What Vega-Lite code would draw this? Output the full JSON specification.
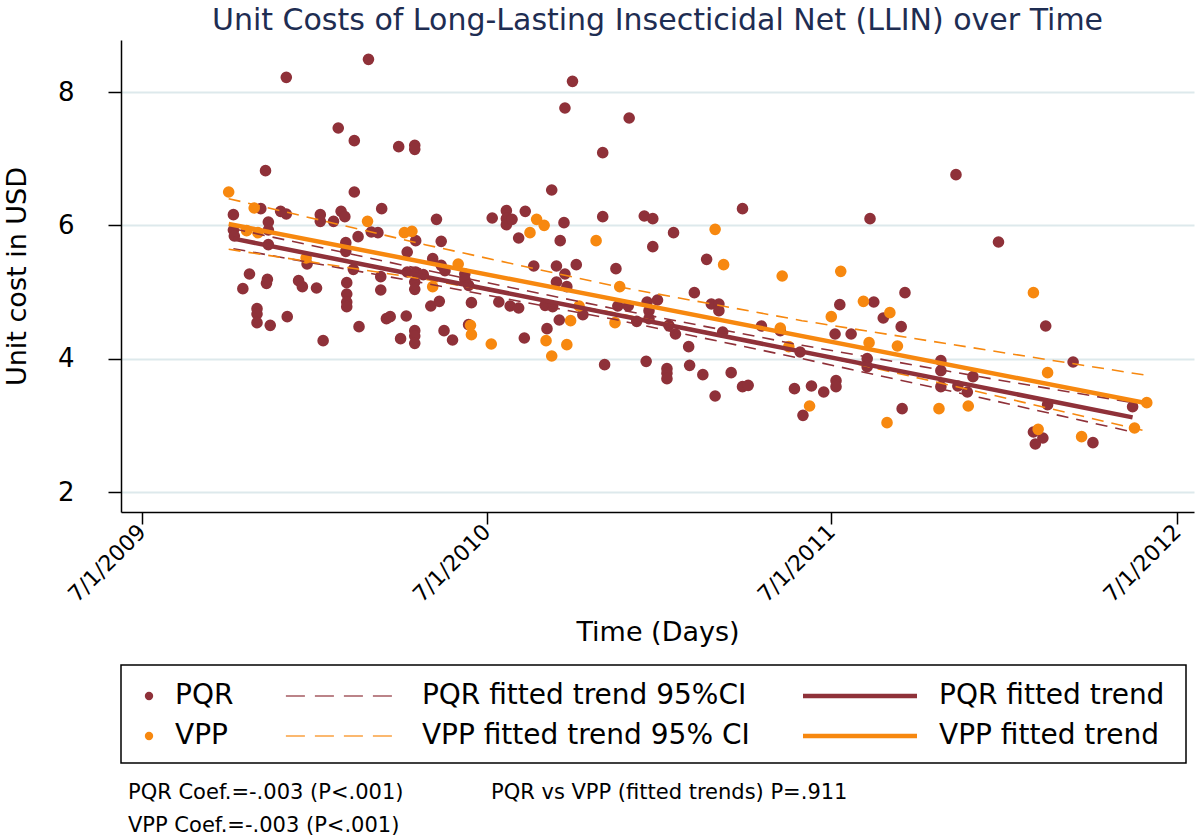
{
  "$schema": "https://vega.github.io/schema/vega-lite/v6.json",
  "background": "white",
  "padding": {"left": 3, "top": 6, "right": 3, "bottom": 2},
  "spacing": 18,
  "config": {
    "font": "DejaVu Sans",
    "view": {"stroke": null},
    "axis": {"labelFont": "DejaVu Sans", "titleFont": "DejaVu Sans", "labelColor": "black", "titleColor": "black", "domainColor": "black", "tickColor": "black", "titleFontWeight": "normal"},
    "text": {"font": "DejaVu Sans"}
  },
  "datasets": {
    "pts": [
      {"date":"2009-12-01","cost":8.22,"series":"PQR"},{"date":"2010-02-26","cost":8.49,"series":"PQR"},{"date":"2010-01-25","cost":7.46,"series":"PQR"},{"date":"2010-02-11","cost":7.27,"series":"PQR"},{"date":"2010-03-30","cost":7.18,"series":"PQR"},{"date":"2010-04-16","cost":7.20,"series":"PQR"},{"date":"2010-04-16","cost":7.14,"series":"PQR"},{"date":"2009-11-09","cost":6.82,"series":"PQR"},{"date":"2010-02-11","cost":6.50,"series":"PQR"},{"date":"2009-10-06","cost":6.16,"series":"PQR"},{"date":"2009-11-04","cost":6.25,"series":"PQR"},{"date":"2009-11-25","cost":6.21,"series":"PQR"},{"date":"2009-12-01","cost":6.17,"series":"PQR"},{"date":"2010-01-06","cost":6.16,"series":"PQR"},{"date":"2010-01-06","cost":6.06,"series":"PQR"},{"date":"2010-01-20","cost":6.06,"series":"PQR"},{"date":"2010-01-28","cost":6.21,"series":"PQR"},{"date":"2010-02-01","cost":6.13,"series":"PQR"},{"date":"2010-03-12","cost":6.25,"series":"PQR"},{"date":"2009-11-12","cost":6.05,"series":"PQR"},{"date":"2009-11-12","cost":5.93,"series":"PQR"},{"date":"2009-10-06","cost":5.93,"series":"PQR"},{"date":"2009-10-07","cost":5.84,"series":"PQR"},{"date":"2009-11-12","cost":5.71,"series":"PQR"},{"date":"2010-02-15","cost":5.83,"series":"PQR"},{"date":"2010-03-01","cost":5.90,"series":"PQR"},{"date":"2010-03-08","cost":5.89,"series":"PQR"},{"date":"2010-02-02","cost":5.74,"series":"PQR"},{"date":"2010-02-02","cost":5.61,"series":"PQR"},{"date":"2010-05-09","cost":6.09,"series":"PQR"},{"date":"2010-05-14","cost":5.76,"series":"PQR"},{"date":"2010-04-08","cost":5.60,"series":"PQR"},{"date":"2010-04-17","cost":5.77,"series":"PQR"},{"date":"2010-05-05","cost":5.50,"series":"PQR"},{"date":"2010-07-07","cost":6.11,"series":"PQR"},{"date":"2010-02-10","cost":5.34,"series":"PQR"},{"date":"2009-10-23","cost":5.27,"series":"PQR"},{"date":"2010-04-08","cost":5.30,"series":"PQR"},{"date":"2010-04-17","cost":5.30,"series":"PQR"},{"date":"2010-04-25","cost":5.26,"series":"PQR"},{"date":"2010-05-14","cost":5.40,"series":"PQR"},{"date":"2010-05-18","cost":5.32,"series":"PQR"},{"date":"2009-12-23","cost":5.42,"series":"PQR"},{"date":"2010-06-08","cost":5.27,"series":"PQR"},{"date":"2010-06-08","cost":5.19,"series":"PQR"},{"date":"2010-06-12","cost":5.10,"series":"PQR"},{"date":"2009-11-11","cost":5.19,"series":"PQR"},{"date":"2009-11-10","cost":5.13,"series":"PQR"},{"date":"2009-12-14","cost":5.17,"series":"PQR"},{"date":"2009-12-18","cost":5.08,"series":"PQR"},{"date":"2010-01-02","cost":5.06,"series":"PQR"},{"date":"2009-10-16","cost":5.05,"series":"PQR"},{"date":"2010-02-03","cost":5.14,"series":"PQR"},{"date":"2010-02-03","cost":4.97,"series":"PQR"},{"date":"2010-02-03","cost":4.85,"series":"PQR"},{"date":"2010-02-03","cost":4.78,"series":"PQR"},{"date":"2010-03-11","cost":5.23,"series":"PQR"},{"date":"2010-03-11","cost":5.03,"series":"PQR"},{"date":"2010-04-16","cost":5.15,"series":"PQR"},{"date":"2010-04-16","cost":5.04,"series":"PQR"},{"date":"2010-06-15","cost":4.84,"series":"PQR"},{"date":"2010-05-03","cost":4.79,"series":"PQR"},{"date":"2010-05-12","cost":4.86,"series":"PQR"},{"date":"2010-07-14","cost":4.85,"series":"PQR"},{"date":"2009-10-31","cost":4.75,"series":"PQR"},{"date":"2009-10-31","cost":4.67,"series":"PQR"},{"date":"2009-10-31","cost":4.54,"series":"PQR"},{"date":"2009-11-14","cost":4.50,"series":"PQR"},{"date":"2009-12-02","cost":4.63,"series":"PQR"},{"date":"2010-02-16","cost":4.48,"series":"PQR"},{"date":"2010-03-17","cost":4.60,"series":"PQR"},{"date":"2010-03-21","cost":4.63,"series":"PQR"},{"date":"2010-04-07","cost":4.64,"series":"PQR"},{"date":"2010-04-16","cost":4.42,"series":"PQR"},{"date":"2010-04-16","cost":4.34,"series":"PQR"},{"date":"2010-04-16","cost":4.23,"series":"PQR"},{"date":"2010-04-01","cost":4.30,"series":"PQR"},{"date":"2010-05-17","cost":4.42,"series":"PQR"},{"date":"2010-05-26","cost":4.28,"series":"PQR"},{"date":"2010-01-09","cost":4.27,"series":"PQR"},{"date":"2010-06-12","cost":4.51,"series":"PQR"},
      {"date":"2010-09-30","cost":8.16,"series":"PQR"},{"date":"2010-09-22","cost":7.76,"series":"PQR"},{"date":"2010-11-29","cost":7.61,"series":"PQR"},{"date":"2010-11-01","cost":7.09,"series":"PQR"},{"date":"2010-09-08","cost":6.53,"series":"PQR"},{"date":"2011-03-29","cost":6.25,"series":"PQR"},{"date":"2011-08-11","cost":6.10,"series":"PQR"},{"date":"2010-07-22","cost":6.22,"series":"PQR"},{"date":"2010-07-22","cost":6.10,"series":"PQR"},{"date":"2010-07-22","cost":6.01,"series":"PQR"},{"date":"2010-07-28","cost":6.09,"series":"PQR"},{"date":"2010-08-11","cost":6.21,"series":"PQR"},{"date":"2010-09-21","cost":6.04,"series":"PQR"},{"date":"2010-11-01","cost":6.13,"series":"PQR"},{"date":"2010-12-15","cost":6.14,"series":"PQR"},{"date":"2010-12-24","cost":6.10,"series":"PQR"},{"date":"2011-01-15","cost":5.89,"series":"PQR"},{"date":"2010-08-04","cost":5.81,"series":"PQR"},{"date":"2010-09-17","cost":5.77,"series":"PQR"},{"date":"2010-12-24","cost":5.68,"series":"PQR"},{"date":"2011-02-19","cost":5.49,"series":"PQR"},{"date":"2010-08-20","cost":5.39,"series":"PQR"},{"date":"2010-09-13","cost":5.39,"series":"PQR"},{"date":"2010-10-04","cost":5.41,"series":"PQR"},{"date":"2010-11-15","cost":5.35,"series":"PQR"},{"date":"2010-09-22","cost":5.27,"series":"PQR"},{"date":"2010-09-13","cost":5.15,"series":"PQR"},{"date":"2010-09-24","cost":5.08,"series":"PQR"},{"date":"2010-07-26","cost":4.79,"series":"PQR"},{"date":"2010-08-04","cost":4.76,"series":"PQR"},{"date":"2010-09-01","cost":4.80,"series":"PQR"},{"date":"2010-09-09","cost":4.78,"series":"PQR"},{"date":"2010-10-11","cost":4.66,"series":"PQR"},{"date":"2010-09-16","cost":4.58,"series":"PQR"},{"date":"2010-09-03","cost":4.45,"series":"PQR"},{"date":"2010-08-10","cost":4.31,"series":"PQR"},{"date":"2010-11-17","cost":4.79,"series":"PQR"},{"date":"2010-11-28","cost":4.79,"series":"PQR"},{"date":"2010-12-18","cost":4.85,"series":"PQR"},{"date":"2010-12-29","cost":4.88,"series":"PQR"},{"date":"2010-12-20","cost":4.72,"series":"PQR"},{"date":"2010-12-20","cost":4.60,"series":"PQR"},{"date":"2010-12-07","cost":4.56,"series":"PQR"},{"date":"2011-02-06","cost":4.99,"series":"PQR"},{"date":"2011-02-24","cost":4.82,"series":"PQR"},{"date":"2011-03-04","cost":4.82,"series":"PQR"},{"date":"2011-03-04","cost":4.72,"series":"PQR"},{"date":"2011-01-10","cost":4.50,"series":"PQR"},{"date":"2011-01-17","cost":4.37,"series":"PQR"},{"date":"2011-01-31","cost":4.18,"series":"PQR"},{"date":"2010-11-03","cost":3.91,"series":"PQR"},{"date":"2010-12-17","cost":3.96,"series":"PQR"},{"date":"2011-01-08","cost":3.85,"series":"PQR"},{"date":"2011-01-08","cost":3.78,"series":"PQR"},{"date":"2011-01-08","cost":3.70,"series":"PQR"},{"date":"2011-02-01","cost":3.90,"series":"PQR"},{"date":"2011-02-15","cost":3.76,"series":"PQR"},{"date":"2011-02-28","cost":3.44,"series":"PQR"},{"date":"2011-03-17","cost":3.79,"series":"PQR"},{"date":"2011-03-29","cost":3.58,"series":"PQR"},{"date":"2011-04-04","cost":3.60,"series":"PQR"},{"date":"2011-03-08","cost":4.40,"series":"PQR"},{"date":"2011-04-18","cost":4.49,"series":"PQR"},{"date":"2011-05-08","cost":4.42,"series":"PQR"},{"date":"2011-05-23","cost":3.55,"series":"PQR"},{"date":"2011-06-10","cost":3.59,"series":"PQR"},{"date":"2011-06-23","cost":3.50,"series":"PQR"},{"date":"2011-07-06","cost":3.67,"series":"PQR"},{"date":"2011-07-06","cost":3.58,"series":"PQR"},{"date":"2011-06-01","cost":3.15,"series":"PQR"},{"date":"2011-05-29","cost":4.10,"series":"PQR"},{"date":"2011-07-10","cost":4.81,"series":"PQR"},{"date":"2011-07-05","cost":4.37,"series":"PQR"},{"date":"2011-07-22","cost":4.37,"series":"PQR"},{"date":"2011-08-08","cost":4.00,"series":"PQR"},{"date":"2011-08-08","cost":3.88,"series":"PQR"},{"date":"2011-08-15","cost":4.85,"series":"PQR"},{"date":"2011-11-10","cost":6.76,"series":"PQR"},{"date":"2011-12-25","cost":5.75,"series":"PQR"},{"date":"2011-09-17","cost":4.99,"series":"PQR"},{"date":"2011-08-25","cost":4.61,"series":"PQR"},{"date":"2011-09-13","cost":4.48,"series":"PQR"},{"date":"2012-02-13","cost":4.49,"series":"PQR"},{"date":"2011-10-25","cost":3.97,"series":"PQR"},{"date":"2011-10-25","cost":3.82,"series":"PQR"},{"date":"2011-10-25","cost":3.58,"series":"PQR"},{"date":"2012-03-13","cost":3.95,"series":"PQR"},{"date":"2011-11-28","cost":3.73,"series":"PQR"},{"date":"2011-11-12","cost":3.59,"series":"PQR"},{"date":"2011-11-22","cost":3.50,"series":"PQR"},{"date":"2011-09-14","cost":3.25,"series":"PQR"},{"date":"2012-02-15","cost":3.31,"series":"PQR"},{"date":"2012-05-15","cost":3.28,"series":"PQR"},{"date":"2012-01-31","cost":2.90,"series":"PQR"},{"date":"2012-02-10","cost":2.81,"series":"PQR"},{"date":"2012-02-02","cost":2.72,"series":"PQR"},{"date":"2012-04-03","cost":2.74,"series":"PQR"},
      {"date":"2009-10-01","cost":6.50,"series":"VPP"},{"date":"2009-10-28","cost":6.26,"series":"VPP"},{"date":"2009-10-20","cost":5.92,"series":"VPP"},{"date":"2009-11-01","cost":5.89,"series":"VPP"},{"date":"2010-02-25","cost":6.06,"series":"VPP"},{"date":"2010-04-05","cost":5.89,"series":"VPP"},{"date":"2010-04-13","cost":5.91,"series":"VPP"},{"date":"2009-12-22","cost":5.51,"series":"VPP"},{"date":"2010-06-01","cost":5.42,"series":"VPP"},{"date":"2010-05-05","cost":5.08,"series":"VPP"},{"date":"2010-06-14","cost":4.50,"series":"VPP"},{"date":"2010-06-15","cost":4.36,"series":"VPP"},{"date":"2010-07-06","cost":4.22,"series":"VPP"},{"date":"2010-08-23","cost":6.09,"series":"VPP"},{"date":"2010-08-31","cost":6.00,"series":"VPP"},{"date":"2010-08-16","cost":5.89,"series":"VPP"},{"date":"2010-10-25","cost":5.77,"series":"VPP"},{"date":"2011-02-28","cost":5.94,"series":"VPP"},{"date":"2011-03-09","cost":5.41,"series":"VPP"},{"date":"2011-05-10","cost":5.24,"series":"VPP"},{"date":"2011-07-11","cost":5.31,"series":"VPP"},{"date":"2010-09-02","cost":4.27,"series":"VPP"},{"date":"2010-09-08","cost":4.04,"series":"VPP"},{"date":"2010-09-24","cost":4.21,"series":"VPP"},{"date":"2010-09-28","cost":4.57,"series":"VPP"},{"date":"2010-10-07","cost":4.79,"series":"VPP"},{"date":"2010-11-19","cost":5.08,"series":"VPP"},{"date":"2010-11-14","cost":4.54,"series":"VPP"},{"date":"2011-08-04","cost":4.86,"series":"VPP"},{"date":"2011-07-01","cost":4.63,"series":"VPP"},{"date":"2011-05-08","cost":4.46,"series":"VPP"},{"date":"2011-05-17","cost":4.18,"series":"VPP"},{"date":"2011-08-10","cost":4.24,"series":"VPP"},{"date":"2011-06-08","cost":3.29,"series":"VPP"},{"date":"2012-01-31","cost":4.99,"series":"VPP"},{"date":"2011-09-01","cost":4.69,"series":"VPP"},{"date":"2011-09-09","cost":4.19,"series":"VPP"},{"date":"2012-02-15","cost":3.79,"series":"VPP"},{"date":"2011-08-29","cost":3.04,"series":"VPP"},{"date":"2011-10-23","cost":3.25,"series":"VPP"},{"date":"2011-11-23","cost":3.29,"series":"VPP"},{"date":"2012-02-05","cost":2.94,"series":"VPP"},{"date":"2012-03-22","cost":2.83,"series":"VPP"},{"date":"2012-05-17","cost":2.96,"series":"VPP"},{"date":"2012-05-30","cost":3.34,"series":"VPP"}
    ],
    "fits": [
      {"date":"2009-10-06","cost":5.80,"series":"PQR","band":"fit"},{"date":"2012-05-15","cost":3.12,"series":"PQR","band":"fit"},
      {"date":"2009-10-06","cost":5.95,"series":"PQR","band":"upper"},{"date":"2010-04-27","cost":5.33,"series":"PQR","band":"upper"},{"date":"2010-11-13","cost":4.75,"series":"PQR","band":"upper"},{"date":"2011-05-31","cost":4.20,"series":"PQR","band":"upper"},{"date":"2011-12-17","cost":3.70,"series":"PQR","band":"upper"},{"date":"2012-05-15","cost":3.34,"series":"PQR","band":"upper"},
      {"date":"2009-10-06","cost":5.65,"series":"PQR","band":"lower"},{"date":"2010-04-27","cost":5.13,"series":"PQR","band":"lower"},{"date":"2010-11-13","cost":4.59,"series":"PQR","band":"lower"},{"date":"2011-05-31","cost":4.00,"series":"PQR","band":"lower"},{"date":"2011-12-17","cost":3.38,"series":"PQR","band":"lower"},{"date":"2012-05-15","cost":2.90,"series":"PQR","band":"lower"},
      {"date":"2009-10-01","cost":6.02,"series":"VPP","band":"fit"},{"date":"2012-05-30","cost":3.33,"series":"VPP","band":"fit"},
      {"date":"2009-10-01","cost":6.40,"series":"VPP","band":"upper"},{"date":"2010-04-27","cost":5.71,"series":"VPP","band":"upper"},{"date":"2010-11-13","cost":5.09,"series":"VPP","band":"upper"},{"date":"2011-05-31","cost":4.57,"series":"VPP","band":"upper"},{"date":"2011-12-17","cost":4.12,"series":"VPP","band":"upper"},{"date":"2012-05-30","cost":3.75,"series":"VPP","band":"upper"},
      {"date":"2009-10-01","cost":5.64,"series":"VPP","band":"lower"},{"date":"2010-04-27","cost":5.19,"series":"VPP","band":"lower"},{"date":"2010-11-13","cost":4.69,"series":"VPP","band":"lower"},{"date":"2011-05-31","cost":4.11,"series":"VPP","band":"lower"},{"date":"2011-12-17","cost":3.46,"series":"VPP","band":"lower"},{"date":"2012-05-30","cost":2.91,"series":"VPP","band":"lower"}
    ],
    "legend": [
      {"series":"PQR","kind":"marker","label":"PQR"},
      {"series":"PQR","kind":"ci","label":"PQR fitted trend 95%CI"},
      {"series":"PQR","kind":"fit","label":"PQR fitted trend"},
      {"series":"VPP","kind":"marker","label":"VPP"},
      {"series":"VPP","kind":"ci","label":"VPP fitted trend 95% CI"},
      {"series":"VPP","kind":"fit","label":"VPP fitted trend"}
    ],
    "notes": [
      {"note":"PQR Coef.=-.003 (P<.001)","col":"a","row":"1"},
      {"note":"PQR vs VPP (fitted trends) P=.911","col":"b","row":"1"},
      {"note":"VPP Coef.=-.003 (P<.001)","col":"a","row":"2"}
    ]
  },
  "vconcat": [
    {
      "title": {"text": "Unit Costs of Long-Lasting Insecticidal Net (LLIN) over Time", "fontSize": 30, "font": "DejaVu Sans", "fontWeight": "normal", "color": "#1E2D52", "offset": 4, "anchor": "middle"},
      "width": 1073,
      "height": 472,
      "encoding": {
        "x": {"field": "date", "type": "temporal", "title": "Time (Days)",
          "scale": {"type": "utc", "domain": [{"year": 2009, "month": 6, "date": 9, "utc": true}, {"year": 2012, "month": 7, "date": 19, "utc": true}]},
          "axis": {"values": [{"year": 2009, "month": 7, "date": 1, "utc": true}, {"year": 2010, "month": 7, "date": 1, "utc": true}, {"year": 2011, "month": 7, "date": 1, "utc": true}, {"year": 2012, "month": 7, "date": 1, "utc": true}],
            "labelExpr": "utcFormat(datum.value, '%-m/%-d/%Y')", "labelAngle": -45, "labelAlign": "right", "labelBaseline": "middle", "labelFontSize": 22, "labelPadding": 4, "labelOverlap": false, "labelFlush": false, "labelBound": false,
            "tickSize": 12, "tickWidth": 1.5, "domainWidth": 1.5, "grid": false, "titleFontSize": 27, "titlePadding": 14}},
        "y": {"field": "cost", "type": "quantitative", "title": "Unit cost in USD",
          "scale": {"domain": [1.7, 8.78], "nice": false, "zero": false},
          "axis": {"values": [2, 4, 6, 8], "grid": true, "gridColor": "#DDE9EC", "gridWidth": 2, "tickSize": 13, "tickWidth": 1.5, "domainWidth": 1.5, "labelFontSize": 26, "labelPadding": 34, "labelAngle": 0, "titleFontSize": 27, "titlePadding": 26}},
        "color": {"field": "series", "type": "nominal", "scale": {"domain": ["PQR", "VPP"], "range": ["#8F3139", "#F7880F"]}, "legend": null}
      },
      "layer": [
        {"data": {"name": "pts"}, "mark": {"type": "point", "filled": true, "opacity": 1, "size": 135}},
        {"data": {"name": "fits"}, "transform": [{"filter": "datum.band != 'fit'"}], "mark": {"type": "line", "strokeWidth": 1.6, "strokeDash": [12, 8]}, "encoding": {"detail": {"field": "band"}}},
        {"data": {"name": "fits"}, "transform": [{"filter": "datum.band == 'fit'"}], "mark": {"type": "line", "strokeWidth": 4.5}}
      ]
    },
    {
      "width": 1065,
      "height": 98,
      "view": {"stroke": "black", "strokeWidth": 1.5},
      "data": {"name": "legend"},
      "encoding": {
        "x": {"field": "kind", "type": "nominal", "scale": {"type": "point", "domain": ["marker", "g1", "g2", "ci", "g3", "g4", "g5", "g6", "g7", "g8", "g9", "fit"], "range": [28, 739], "padding": 0}, "axis": null},
        "y": {"field": "series", "type": "nominal", "scale": {"type": "point", "domain": ["PQR", "VPP"], "range": [31, 71], "padding": 0}, "axis": null},
        "color": {"field": "series", "type": "nominal", "legend": null}
      },
      "layer": [
        {"transform": [{"filter": "datum.kind == 'marker'"}], "mark": {"type": "point", "filled": true, "opacity": 1, "size": 70}},
        {"transform": [{"filter": "datum.kind == 'ci'"}], "mark": {"type": "rule", "strokeWidth": 1.6, "strokeDash": [19, 10], "opacity": 0.8, "xOffset": -57, "x2Offset": 57}, "encoding": {"x2": {"field": "kind"}}},
        {"transform": [{"filter": "datum.kind == 'fit'"}], "mark": {"type": "rule", "strokeWidth": 4.5, "xOffset": -57, "x2Offset": 57}, "encoding": {"x2": {"field": "kind"}}},
        {"transform": [{"filter": "datum.kind == 'marker'"}], "mark": {"type": "text", "align": "left", "baseline": "middle", "dx": 26, "fontSize": 28}, "encoding": {"text": {"field": "label"}, "color": {"value": "black"}}},
        {"transform": [{"filter": "datum.kind != 'marker'"}], "mark": {"type": "text", "align": "left", "baseline": "middle", "dx": 79, "fontSize": 28}, "encoding": {"text": {"field": "label"}, "color": {"value": "black"}}}
      ]
    },
    {
      "width": 1065,
      "height": 50,
      "data": {"name": "notes"},
      "mark": {"type": "text", "align": "left", "baseline": "middle", "fontSize": 21, "color": "black"},
      "encoding": {
        "x": {"field": "col", "type": "nominal", "scale": {"type": "point", "domain": ["a", "b"], "range": [7, 370], "padding": 0}, "axis": null},
        "y": {"field": "row", "type": "nominal", "scale": {"type": "point", "domain": ["1", "2"], "range": [9, 42], "padding": 0}, "axis": null},
        "text": {"field": "note"}
      }
    }
  ]
}
